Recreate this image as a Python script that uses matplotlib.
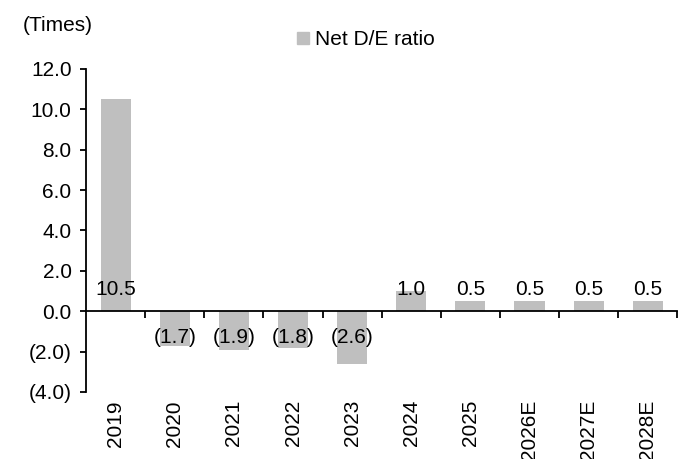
import numpy as np
import matplotlib.pyplot as plt
from matplotlib.patches import Patch

years = ['2019', '2020', '2021', '2022', '2023', '2024', '2025', '2026E', '2027E', '2028E']
net_de = [10.5, -1.7, -1.9, -1.8, -2.6, 1.0, 0.5, 0.5, 0.5, 0.5]
yticks = [-4.0, -2.0, 0.0, 2.0, 4.0, 6.0, 8.0, 10.0, 12.0]

plt.rcParams['font.family'] = ['Liberation Sans', 'DejaVu Sans']
plt.rcParams['font.size'] = 15

def fmt(v):
    if v < 0:
        return '(%.1f)' % abs(v)
    return '%.1f' % v

bar_col = '#bfbfbf'
fig = plt.figure(figsize=(6.78, 4.59), dpi=100)
ax = fig.add_axes([0.127, 0.146, 0.872, 0.704])

x = np.arange(len(years))
ax.bar(x, net_de, width=0.51, color=bar_col, zorder=2)

ax.set_xlim(-0.5, len(years) - 0.5)
ax.set_ylim(-4, 12)
ax.set_yticks(yticks)
ax.set_yticklabels([fmt(t) for t in yticks])

# x axis sits at zero, ticks between categories
ax.spines['bottom'].set_position(('data', 0))
ax.spines['top'].set_visible(False)
ax.spines['right'].set_visible(False)
ax.spines['left'].set_linewidth(1.3)
ax.spines['bottom'].set_linewidth(1.3)
ax.set_xticks(np.arange(len(years)) + 0.5)
ax.set_xticklabels([])
ax.tick_params(axis='x', direction='out', length=5, width=1.3)
ax.tick_params(axis='y', direction='out', length=4.5, width=1.3, pad=6)

for xi, lab in zip(x, years):
    ax.text(xi, -0.025, lab, rotation=90, ha='center', va='top',
            transform=ax.get_xaxis_transform())

# data labels near the base
for xi, v in zip(x, net_de):
    off = 22 if v >= 0 else -26
    ax.annotate(fmt(v), (xi, 0), xytext=(0, off), textcoords='offset pixels',
                ha='center', va='center', zorder=3)

fig.text(0.033, 0.945, '(Times)', ha='left', va='center')
fig.legend(handles=[Patch(color=bar_col, label='Net D/E ratio')],
           loc='center', bbox_to_anchor=(0.54, 0.913), frameon=False,
           handlelength=0.55, handleheight=0.55, handletextpad=0.3)

fig.savefig('out.png', dpi=100)
